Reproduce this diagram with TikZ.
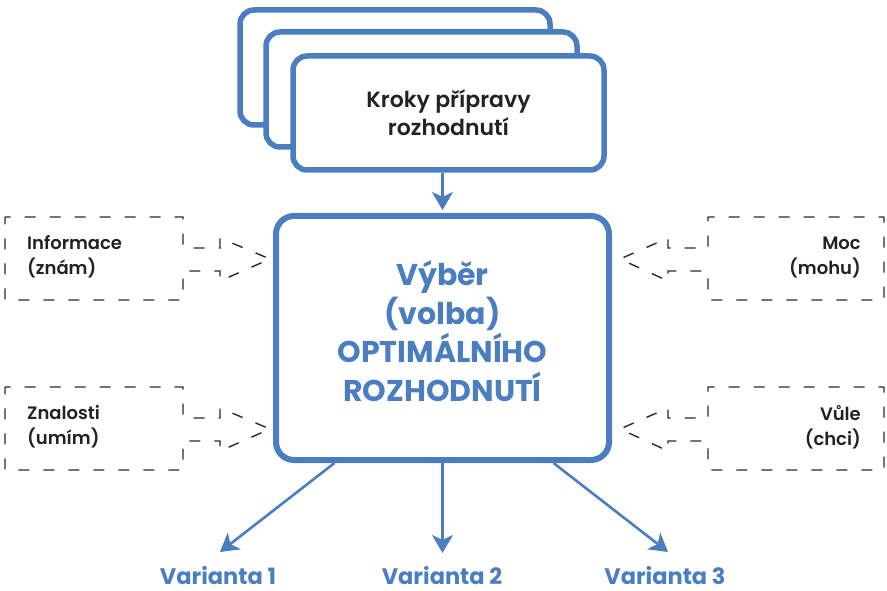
\documentclass[tikz,border=0pt]{standalone}
\usepackage{fontspec}
\setmainfont{Poppins}
\newfontfamily\medfont{Poppins SemiBold}
\usetikzlibrary{arrows.meta}
\definecolor{mblue}{HTML}{4A7EC1}
\definecolor{dtext}{HTML}{222222}
\definecolor{dline}{HTML}{2A2A2A}
\begin{document}
\begin{tikzpicture}[x=1pt,y=-1pt,
  card/.style={draw=mblue, line width=5.5pt, fill=white, rounded corners=14pt, inner sep=0pt},
  dashshape/.style={draw=dline, line width=1.4pt, dash pattern=on 11pt off 14pt, dash phase=5.5pt},
  conn/.style={draw=mblue, line width=2.6pt, -{Stealth[length=18pt,width=21pt,inset=5pt]}},
  lbl/.style={font=\medfont\fontsize{18}{25}\selectfont, text=dtext, inner sep=0pt},
  var/.style={font=\bfseries\fontsize{22.5}{25}\selectfont, text=mblue, inner sep=0pt, anchor=base}
]
\useasboundingbox (0,0) rectangle (887,591);
% stacked cards
\node[card, minimum width=310pt, minimum height=115pt] (c1) at (395,67.5) {};
\node[card, minimum width=311pt, minimum height=115pt] (c2) at (421.5,89.5) {};
\node[card, minimum width=311pt, minimum height=114pt, align=center,
      font=\medfont\fontsize{22}{28}\selectfont, text=dtext] (c3) at (448.5,113) {Kroky přípravy\\rozhodnutí};
% main box
\node[draw=mblue, line width=6pt, rounded corners=18pt, fill=white,
      minimum width=333pt, minimum height=244pt] (main) at (442.5,338) {};
\node[align=center, text=mblue, font=\bfseries\fontsize{30}{38.5}\selectfont, inner sep=0pt] (mtext) at (442.5,331)
  {Výběr\\(volba)\\OPTIMÁLNÍHO\\ROZHODNUTÍ};
% top connector
\draw[conn] (main.north |- c3.south) -- ([yshift=3pt]main.north);
% dashed input shapes
\draw[dashshape] (5,217) -- (183,217) -- (183,248) -- (220,248) -- (220,238) -- (270,259)
  -- (220,281) -- (220,271) -- (183,271) -- (183,300) -- (5,300) -- cycle;
\draw[dashshape] (5,387) -- (183,387) -- (183,418) -- (220,418) -- (220,408) -- (270,429)
  -- (220,451) -- (220,441) -- (183,441) -- (183,470) -- (5,470) -- cycle;
\draw[dashshape] (884,217) -- (708,217) -- (708,248) -- (668,248) -- (668,238) -- (620,259)
  -- (668,281) -- (668,271) -- (708,271) -- (708,300) -- (884,300) -- cycle;
\draw[dashshape] (884,387) -- (708,387) -- (708,418) -- (668,418) -- (668,408) -- (620,429)
  -- (668,451) -- (668,441) -- (708,441) -- (708,470) -- (884,470) -- cycle;
\node[lbl, align=left, anchor=west] (inf) at (27,257) {Informace\\(znám)};
\node[lbl, align=left, anchor=west] (zna) at (27,427) {Znalosti\\(umím)};
\node[lbl, align=right, anchor=east] (moc) at (861,257) {Moc\\(mohu)};
\node[lbl, align=right, anchor=east] (vule) at (861,427) {Vůle\\(chci)};
% variants
\node[var] (v1) at (218,584) {Varianta 1};
\node[var] (v2) at (442,584) {Varianta 2};
\node[var] (v3) at (665,584) {Varianta 3};
\coordinate (t1) at (220,552);
\coordinate (t2) at (442.5,553);
\coordinate (t3) at (668,552);
\draw[conn] ([xshift=-108pt]main.south) -- (t1);
\draw[conn] (main.south) -- (t2);
\draw[conn] ([xshift=111pt]main.south) -- (t3);
\end{tikzpicture}
\end{document}
